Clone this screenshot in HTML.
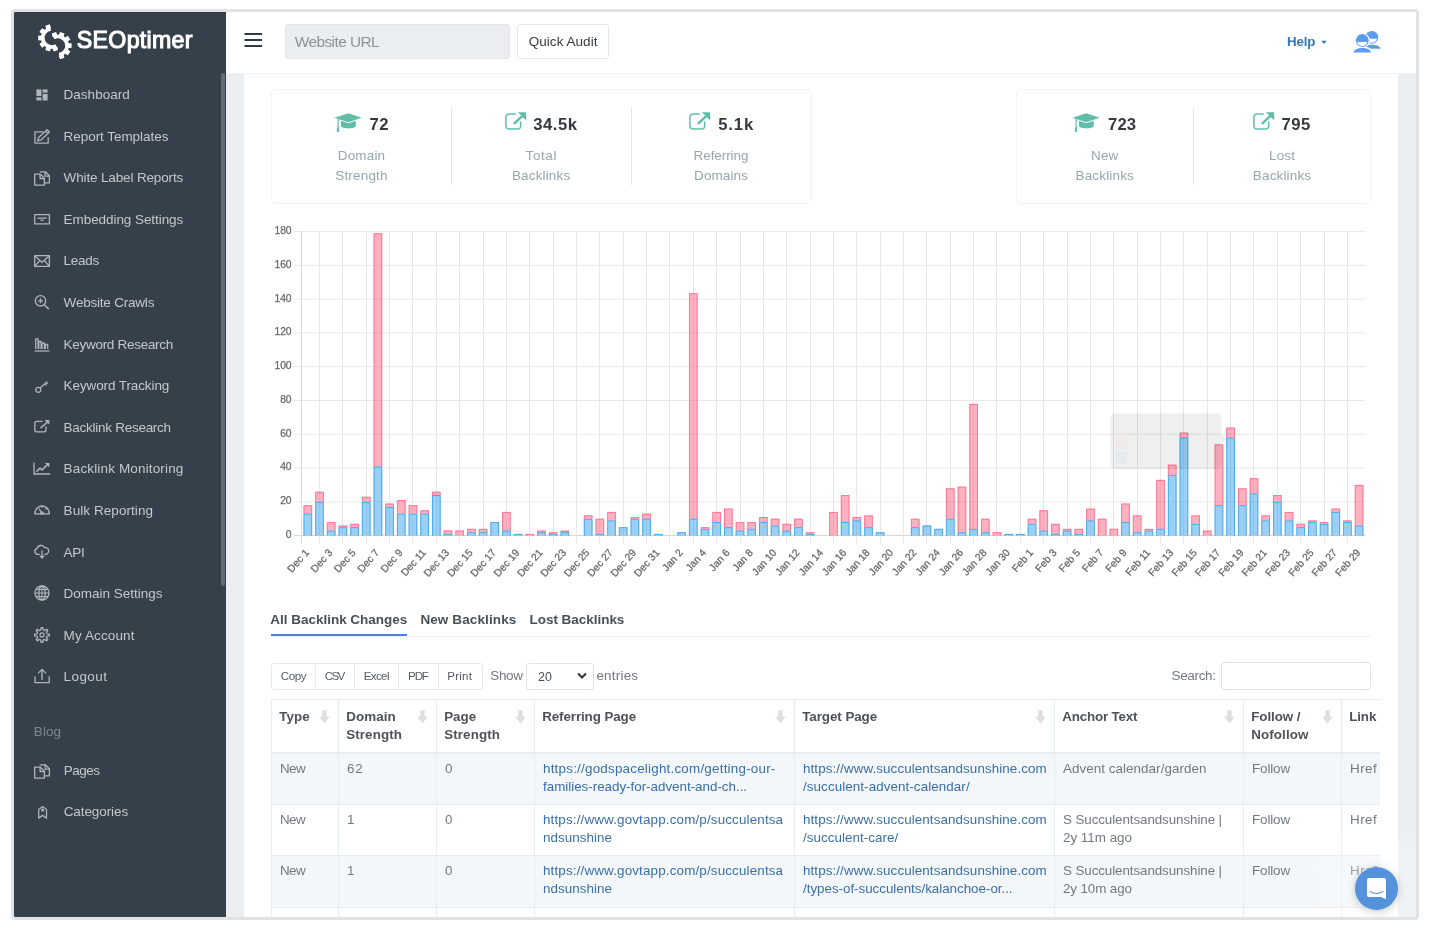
<!DOCTYPE html>
<html lang="en">
<head>
<meta charset="utf-8">
<title>SEOptimer - Backlink Monitoring</title>
<style>
*{box-sizing:border-box}
html,body{margin:0;padding:0;background:#fff;width:1430px;height:930px;overflow:hidden}
body{font-family:"Liberation Sans",sans-serif;font-size:13.4px;color:#727981;position:relative}
#frame{position:absolute;left:14px;top:12px;width:1402px;height:905px;overflow:hidden;background:#ebeff2;border-radius:1.5px;box-shadow:0 0 0 3px #e2e2e2}
#pg{position:absolute;left:-14px;top:-12px;width:1430px;height:930px}
.abs{position:absolute}
.t{position:absolute;white-space:nowrap}
#sidebar{position:absolute;left:14px;top:12px;width:212px;height:905px;background:#36404a;border-top:1px solid #2e3741}
#sbthumb{position:absolute;left:221px;top:73px;width:4px;height:513px;border-radius:2px;background:#626c76}
.mic{position:absolute;overflow:visible}
#topbar{position:absolute;left:226px;top:12px;width:1190px;height:61px;background:#fff;box-shadow:0 1px 0 #f0f2f4}
#card{position:absolute;left:244px;top:74px;width:1154px;height:860px;background:#fff}
.sbox{position:absolute;top:89px;height:114.5px;border:1px solid #f1f3f6;border-radius:5px;background:#fff}
.sdiv{position:absolute;top:108px;width:1px;height:77px;background:#dfe4ef}
.btn{position:absolute;top:663.5px;height:26px;border:1px solid #e6e9ec;background:#fff}
table{position:absolute;border-collapse:collapse;table-layout:fixed;width:1240px;font-size:13.4px;white-space:nowrap}
th,td{border:1px solid #e7ecf0;vertical-align:top;text-align:left;padding:6.2px 8px 0 8px;line-height:18px;overflow:hidden}
th{font-weight:bold;color:#4d5359;height:53px;border-bottom:2px solid #e7ecf0;position:relative;padding-top:7.6px;padding-left:7.2px}
td{height:51.6px;color:#727981}
tr.odd td{background:#f3f7fa}
td a{color:#3a6fa7;text-decoration:none}
th svg{position:absolute;right:8px;top:9.6px}
</style>
</head>
<body>
<div id="frame"><div id="pg">
<div id="card"></div>
<div class="sbox" style="left:271px;width:540.5px"></div><div class="sdiv" style="left:451px"></div><div class="sdiv" style="left:631px"></div>
<div class="sbox" style="left:1016px;width:355px"></div><div class="sdiv" style="left:1193px"></div>
<svg class="abs" style="left:334px;top:113px" width="28" height="20" viewBox="-1 0 28 20"><path d="M-0.6 4.8 L13.4 0.3 L26.7 4.8 L13.4 9.2 Z" fill="#5fbeaa"/><path d="M6 7.8 L13.4 10.3 L20.8 7.8 V12.6 C20.8 16.4 6 16.4 6 12.6 Z" fill="#5fbeaa"/><path d="M2.6 5.6 L3.9 6 L3.6 12.4 L4.4 18.8 H1.5 L2.5 12.4 Z" fill="#5fbeaa"/></svg>
<div class="t" style="left:369.5px;top:115.11px;line-height:20px;font-size:16.7px;font-weight:bold;color:#343a40;letter-spacing:0.438px;">72</div>
<svg class="abs" style="left:504.6px;top:111px" width="23" height="20" viewBox="0 0 23 20"><path d="M10.8 3 H3.9 a3 3 0 0 0 -3 3 V15.1 a3 3 0 0 0 3 3 H12.7 a3 3 0 0 0 3 -3 V10.6" fill="none" stroke="#5fbeaa" stroke-width="1.5"/><path d="M8.9 12.9 L18 4.4" stroke="#5fbeaa" stroke-width="2.5"/><path d="M12.9 1.2 H21.2 V9.4 Z" fill="#5fbeaa"/></svg>
<div class="t" style="left:533.2px;top:115.11px;line-height:20px;font-size:16.7px;font-weight:bold;color:#343a40;letter-spacing:0.534px;">34.5k</div>
<svg class="abs" style="left:689px;top:111px" width="23" height="20" viewBox="0 0 23 20"><path d="M10.8 3 H3.9 a3 3 0 0 0 -3 3 V15.1 a3 3 0 0 0 3 3 H12.7 a3 3 0 0 0 3 -3 V10.6" fill="none" stroke="#5fbeaa" stroke-width="1.5"/><path d="M8.9 12.9 L18 4.4" stroke="#5fbeaa" stroke-width="2.5"/><path d="M12.9 1.2 H21.2 V9.4 Z" fill="#5fbeaa"/></svg>
<div class="t" style="left:718.2px;top:115.11px;line-height:20px;font-size:16.7px;font-weight:bold;color:#343a40;letter-spacing:0.872px;">5.1k</div>
<svg class="abs" style="left:1072.3px;top:113px" width="28" height="20" viewBox="-1 0 28 20"><path d="M-0.6 4.8 L13.4 0.3 L26.7 4.8 L13.4 9.2 Z" fill="#5fbeaa"/><path d="M6 7.8 L13.4 10.3 L20.8 7.8 V12.6 C20.8 16.4 6 16.4 6 12.6 Z" fill="#5fbeaa"/><path d="M2.6 5.6 L3.9 6 L3.6 12.4 L4.4 18.8 H1.5 L2.5 12.4 Z" fill="#5fbeaa"/></svg>
<div class="t" style="left:1108.0px;top:115.11px;line-height:20px;font-size:16.7px;font-weight:bold;color:#343a40;letter-spacing:0.128px;">723</div>
<svg class="abs" style="left:1253px;top:111px" width="23" height="20" viewBox="0 0 23 20"><path d="M10.8 3 H3.9 a3 3 0 0 0 -3 3 V15.1 a3 3 0 0 0 3 3 H12.7 a3 3 0 0 0 3 -3 V10.6" fill="none" stroke="#5fbeaa" stroke-width="1.5"/><path d="M8.9 12.9 L18 4.4" stroke="#5fbeaa" stroke-width="2.5"/><path d="M12.9 1.2 H21.2 V9.4 Z" fill="#5fbeaa"/></svg>
<div class="t" style="left:1281.5px;top:115.11px;line-height:20px;font-size:16.7px;font-weight:bold;color:#343a40;letter-spacing:0.528px;">795</div>
<div class="t" style="left:337.8px;top:145.92px;line-height:20px;font-size:13.5px;color:#98a6ad;letter-spacing:0.154px;">Domain</div>
<div class="t" style="left:335.2px;top:165.92px;line-height:20px;font-size:13.5px;color:#98a6ad;letter-spacing:0.193px;">Strength</div>
<div class="t" style="left:525.6px;top:145.92px;line-height:20px;font-size:13.5px;color:#98a6ad;letter-spacing:0.567px;">Total</div>
<div class="t" style="left:511.9px;top:165.92px;line-height:20px;font-size:13.5px;color:#98a6ad;letter-spacing:0.159px;">Backlinks</div>
<div class="t" style="left:693.6px;top:145.92px;line-height:20px;font-size:13.5px;color:#98a6ad;letter-spacing:-0.091px;">Referring</div>
<div class="t" style="left:694.1px;top:165.92px;line-height:20px;font-size:13.5px;color:#98a6ad;letter-spacing:0.086px;">Domains</div>
<div class="t" style="left:1091.0px;top:145.92px;line-height:20px;font-size:13.5px;color:#98a6ad;letter-spacing:0.142px;">New</div>
<div class="t" style="left:1075.5px;top:165.92px;line-height:20px;font-size:13.5px;color:#98a6ad;letter-spacing:0.159px;">Backlinks</div>
<div class="t" style="left:1269.1px;top:145.92px;line-height:20px;font-size:13.5px;color:#98a6ad;letter-spacing:0.09px;">Lost</div>
<div class="t" style="left:1252.8px;top:165.92px;line-height:20px;font-size:13.5px;color:#98a6ad;letter-spacing:0.159px;">Backlinks</div>
<svg id="chart" width="1430" height="930" viewBox="0 0 1430 930" style="position:absolute;left:0;top:0;overflow:visible">
<g stroke="#e9e9e9" stroke-width="1" shape-rendering="auto">
<line x1="294.1" y1="535.60" x2="1365.7" y2="535.60" stroke="#d4d4d4"/>
<line x1="294.1" y1="501.82" x2="1365.7" y2="501.82" stroke="#e9e9e9"/>
<line x1="294.1" y1="468.04" x2="1365.7" y2="468.04" stroke="#e9e9e9"/>
<line x1="294.1" y1="434.26" x2="1365.7" y2="434.26" stroke="#e9e9e9"/>
<line x1="294.1" y1="400.48" x2="1365.7" y2="400.48" stroke="#e9e9e9"/>
<line x1="294.1" y1="366.70" x2="1365.7" y2="366.70" stroke="#e9e9e9"/>
<line x1="294.1" y1="332.92" x2="1365.7" y2="332.92" stroke="#e9e9e9"/>
<line x1="294.1" y1="299.14" x2="1365.7" y2="299.14" stroke="#e9e9e9"/>
<line x1="294.1" y1="265.36" x2="1365.7" y2="265.36" stroke="#e9e9e9"/>
<line x1="294.1" y1="231.58" x2="1365.7" y2="231.58" stroke="#e9e9e9"/>
<line x1="301.5" y1="231.58" x2="301.5" y2="543.10" stroke="#dcdcdc"/>
<line x1="319.50" y1="231.58" x2="319.50" y2="543.10" stroke="#e7e7e7"/>
<line x1="342.50" y1="231.58" x2="342.50" y2="543.10" stroke="#e7e7e7"/>
<line x1="366.50" y1="231.58" x2="366.50" y2="543.10" stroke="#e7e7e7"/>
<line x1="389.50" y1="231.58" x2="389.50" y2="543.10" stroke="#e7e7e7"/>
<line x1="412.50" y1="231.58" x2="412.50" y2="543.10" stroke="#e7e7e7"/>
<line x1="436.50" y1="231.58" x2="436.50" y2="543.10" stroke="#e7e7e7"/>
<line x1="459.50" y1="231.58" x2="459.50" y2="543.10" stroke="#e7e7e7"/>
<line x1="483.50" y1="231.58" x2="483.50" y2="543.10" stroke="#e7e7e7"/>
<line x1="506.50" y1="231.58" x2="506.50" y2="543.10" stroke="#e7e7e7"/>
<line x1="529.50" y1="231.58" x2="529.50" y2="543.10" stroke="#e7e7e7"/>
<line x1="553.50" y1="231.58" x2="553.50" y2="543.10" stroke="#e7e7e7"/>
<line x1="576.50" y1="231.58" x2="576.50" y2="543.10" stroke="#e7e7e7"/>
<line x1="599.50" y1="231.58" x2="599.50" y2="543.10" stroke="#e7e7e7"/>
<line x1="623.50" y1="231.58" x2="623.50" y2="543.10" stroke="#e7e7e7"/>
<line x1="646.50" y1="231.58" x2="646.50" y2="543.10" stroke="#e7e7e7"/>
<line x1="669.50" y1="231.58" x2="669.50" y2="543.10" stroke="#e7e7e7"/>
<line x1="693.50" y1="231.58" x2="693.50" y2="543.10" stroke="#e7e7e7"/>
<line x1="716.50" y1="231.58" x2="716.50" y2="543.10" stroke="#e7e7e7"/>
<line x1="740.50" y1="231.58" x2="740.50" y2="543.10" stroke="#e7e7e7"/>
<line x1="763.50" y1="231.58" x2="763.50" y2="543.10" stroke="#e7e7e7"/>
<line x1="786.50" y1="231.58" x2="786.50" y2="543.10" stroke="#e7e7e7"/>
<line x1="810.50" y1="231.58" x2="810.50" y2="543.10" stroke="#e7e7e7"/>
<line x1="833.50" y1="231.58" x2="833.50" y2="543.10" stroke="#e7e7e7"/>
<line x1="856.50" y1="231.58" x2="856.50" y2="543.10" stroke="#e7e7e7"/>
<line x1="880.50" y1="231.58" x2="880.50" y2="543.10" stroke="#e7e7e7"/>
<line x1="903.50" y1="231.58" x2="903.50" y2="543.10" stroke="#e7e7e7"/>
<line x1="926.50" y1="231.58" x2="926.50" y2="543.10" stroke="#e7e7e7"/>
<line x1="950.50" y1="231.58" x2="950.50" y2="543.10" stroke="#e7e7e7"/>
<line x1="973.50" y1="231.58" x2="973.50" y2="543.10" stroke="#e7e7e7"/>
<line x1="996.50" y1="231.58" x2="996.50" y2="543.10" stroke="#e7e7e7"/>
<line x1="1020.50" y1="231.58" x2="1020.50" y2="543.10" stroke="#e7e7e7"/>
<line x1="1043.50" y1="231.58" x2="1043.50" y2="543.10" stroke="#e7e7e7"/>
<line x1="1067.50" y1="231.58" x2="1067.50" y2="543.10" stroke="#e7e7e7"/>
<line x1="1090.50" y1="231.58" x2="1090.50" y2="543.10" stroke="#e7e7e7"/>
<line x1="1113.50" y1="231.58" x2="1113.50" y2="543.10" stroke="#e7e7e7"/>
<line x1="1137.50" y1="231.58" x2="1137.50" y2="543.10" stroke="#e7e7e7"/>
<line x1="1160.50" y1="231.58" x2="1160.50" y2="543.10" stroke="#e7e7e7"/>
<line x1="1183.50" y1="231.58" x2="1183.50" y2="543.10" stroke="#e7e7e7"/>
<line x1="1207.50" y1="231.58" x2="1207.50" y2="543.10" stroke="#e7e7e7"/>
<line x1="1230.50" y1="231.58" x2="1230.50" y2="543.10" stroke="#e7e7e7"/>
<line x1="1253.50" y1="231.58" x2="1253.50" y2="543.10" stroke="#e7e7e7"/>
<line x1="1277.50" y1="231.58" x2="1277.50" y2="543.10" stroke="#e7e7e7"/>
<line x1="1300.50" y1="231.58" x2="1300.50" y2="543.10" stroke="#e7e7e7"/>
<line x1="1324.50" y1="231.58" x2="1324.50" y2="543.10" stroke="#e7e7e7"/>
<line x1="1347.50" y1="231.58" x2="1347.50" y2="543.10" stroke="#e7e7e7"/>
</g>
<g stroke-width="1" fill="none">
<rect x="303.47" y="513.64" width="8.7" height="21.96" fill="rgba(54,162,235,0.5)"/>
<path d="M303.97 535.60 V514.14 H311.67 V535.60" stroke="rgba(54,162,235,0.8)"/>
<rect x="303.47" y="505.20" width="8.7" height="8.44" fill="rgba(255,99,132,0.5)"/>
<path d="M303.97 513.64 V505.70 H311.67 V513.64" stroke="rgba(255,99,132,0.75)"/>
<rect x="315.15" y="501.82" width="8.7" height="33.78" fill="rgba(54,162,235,0.5)"/>
<path d="M315.65 535.60 V502.32 H323.35 V535.60" stroke="rgba(54,162,235,0.8)"/>
<rect x="315.15" y="491.69" width="8.7" height="10.13" fill="rgba(255,99,132,0.5)"/>
<path d="M315.65 501.82 V492.19 H323.35 V501.82" stroke="rgba(255,99,132,0.75)"/>
<rect x="326.83" y="530.53" width="8.7" height="5.07" fill="rgba(54,162,235,0.5)"/>
<path d="M327.33 535.60 V531.03 H335.03 V535.60" stroke="rgba(54,162,235,0.8)"/>
<rect x="326.83" y="522.09" width="8.7" height="8.45" fill="rgba(255,99,132,0.5)"/>
<path d="M327.33 530.53 V522.59 H335.03 V530.53" stroke="rgba(255,99,132,0.75)"/>
<rect x="338.51" y="527.15" width="8.7" height="8.45" fill="rgba(54,162,235,0.5)"/>
<path d="M339.01 535.60 V527.65 H346.71 V535.60" stroke="rgba(54,162,235,0.8)"/>
<rect x="338.51" y="525.47" width="8.7" height="1.69" fill="rgba(255,99,132,0.5)"/>
<path d="M339.01 527.15 V525.97 H346.71 V527.15" stroke="rgba(255,99,132,0.75)"/>
<rect x="350.19" y="527.15" width="8.7" height="8.45" fill="rgba(54,162,235,0.5)"/>
<path d="M350.69 535.60 V527.65 H358.39 V535.60" stroke="rgba(54,162,235,0.8)"/>
<rect x="350.19" y="523.78" width="8.7" height="3.38" fill="rgba(255,99,132,0.5)"/>
<path d="M350.69 527.15 V524.28 H358.39 V527.15" stroke="rgba(255,99,132,0.75)"/>
<rect x="361.88" y="501.82" width="8.7" height="33.78" fill="rgba(54,162,235,0.5)"/>
<path d="M362.38 535.60 V502.32 H370.08 V535.60" stroke="rgba(54,162,235,0.8)"/>
<rect x="361.88" y="496.75" width="8.7" height="5.07" fill="rgba(255,99,132,0.5)"/>
<path d="M362.38 501.82 V497.25 H370.08 V501.82" stroke="rgba(255,99,132,0.75)"/>
<rect x="373.56" y="466.35" width="8.7" height="69.25" fill="rgba(54,162,235,0.5)"/>
<path d="M374.06 535.60 V466.85 H381.76 V535.60" stroke="rgba(54,162,235,0.8)"/>
<rect x="373.56" y="233.27" width="8.7" height="233.08" fill="rgba(255,99,132,0.5)"/>
<path d="M374.06 466.35 V233.77 H381.76 V466.35" stroke="rgba(255,99,132,0.75)"/>
<rect x="385.24" y="506.89" width="8.7" height="28.71" fill="rgba(54,162,235,0.5)"/>
<path d="M385.74 535.60 V507.39 H393.44 V535.60" stroke="rgba(54,162,235,0.8)"/>
<rect x="385.24" y="503.51" width="8.7" height="3.38" fill="rgba(255,99,132,0.5)"/>
<path d="M385.74 506.89 V504.01 H393.44 V506.89" stroke="rgba(255,99,132,0.75)"/>
<rect x="396.92" y="513.64" width="8.7" height="21.96" fill="rgba(54,162,235,0.5)"/>
<path d="M397.42 535.60 V514.14 H405.12 V535.60" stroke="rgba(54,162,235,0.8)"/>
<rect x="396.92" y="500.13" width="8.7" height="13.51" fill="rgba(255,99,132,0.5)"/>
<path d="M397.42 513.64 V500.63 H405.12 V513.64" stroke="rgba(255,99,132,0.75)"/>
<rect x="408.60" y="513.64" width="8.7" height="21.96" fill="rgba(54,162,235,0.5)"/>
<path d="M409.10 535.60 V514.14 H416.80 V535.60" stroke="rgba(54,162,235,0.8)"/>
<rect x="408.60" y="505.20" width="8.7" height="8.44" fill="rgba(255,99,132,0.5)"/>
<path d="M409.10 513.64 V505.70 H416.80 V513.64" stroke="rgba(255,99,132,0.75)"/>
<rect x="420.28" y="513.64" width="8.7" height="21.96" fill="rgba(54,162,235,0.5)"/>
<path d="M420.78 535.60 V514.14 H428.48 V535.60" stroke="rgba(54,162,235,0.8)"/>
<rect x="420.28" y="510.27" width="8.7" height="3.38" fill="rgba(255,99,132,0.5)"/>
<path d="M420.78 513.64 V510.77 H428.48 V513.64" stroke="rgba(255,99,132,0.75)"/>
<rect x="431.96" y="495.06" width="8.7" height="40.54" fill="rgba(54,162,235,0.5)"/>
<path d="M432.46 535.60 V495.56 H440.16 V535.60" stroke="rgba(54,162,235,0.8)"/>
<rect x="431.96" y="491.69" width="8.7" height="3.38" fill="rgba(255,99,132,0.5)"/>
<path d="M432.46 495.06 V492.19 H440.16 V495.06" stroke="rgba(255,99,132,0.75)"/>
<rect x="443.64" y="533.91" width="8.7" height="1.69" fill="rgba(54,162,235,0.5)"/>
<path d="M444.14 535.60 V534.41 H451.84 V535.60" stroke="rgba(54,162,235,0.8)"/>
<rect x="443.64" y="530.53" width="8.7" height="3.38" fill="rgba(255,99,132,0.5)"/>
<path d="M444.14 533.91 V531.03 H451.84 V533.91" stroke="rgba(255,99,132,0.75)"/>
<rect x="455.32" y="530.53" width="8.7" height="5.07" fill="rgba(255,99,132,0.5)"/>
<path d="M455.82 535.60 V531.03 H463.52 V535.60" stroke="rgba(255,99,132,0.75)"/>
<rect x="467.00" y="532.22" width="8.7" height="3.38" fill="rgba(54,162,235,0.5)"/>
<path d="M467.50 535.60 V532.72 H475.20 V535.60" stroke="rgba(54,162,235,0.8)"/>
<rect x="467.00" y="528.84" width="8.7" height="3.38" fill="rgba(255,99,132,0.5)"/>
<path d="M467.50 532.22 V529.34 H475.20 V532.22" stroke="rgba(255,99,132,0.75)"/>
<rect x="478.69" y="532.22" width="8.7" height="3.38" fill="rgba(54,162,235,0.5)"/>
<path d="M479.19 535.60 V532.72 H486.89 V535.60" stroke="rgba(54,162,235,0.8)"/>
<rect x="478.69" y="528.84" width="8.7" height="3.38" fill="rgba(255,99,132,0.5)"/>
<path d="M479.19 532.22 V529.34 H486.89 V532.22" stroke="rgba(255,99,132,0.75)"/>
<rect x="490.37" y="522.09" width="8.7" height="13.51" fill="rgba(54,162,235,0.5)"/>
<path d="M490.87 535.60 V522.59 H498.57 V535.60" stroke="rgba(54,162,235,0.8)"/>
<rect x="502.05" y="530.53" width="8.7" height="5.07" fill="rgba(54,162,235,0.5)"/>
<path d="M502.55 535.60 V531.03 H510.25 V535.60" stroke="rgba(54,162,235,0.8)"/>
<rect x="502.05" y="511.95" width="8.7" height="18.58" fill="rgba(255,99,132,0.5)"/>
<path d="M502.55 530.53 V512.45 H510.25 V530.53" stroke="rgba(255,99,132,0.75)"/>
<rect x="513.73" y="533.91" width="8.7" height="1.69" fill="rgba(54,162,235,0.5)"/>
<path d="M514.23 535.60 V534.41 H521.93 V535.60" stroke="rgba(54,162,235,0.8)"/>
<rect x="525.41" y="533.91" width="8.7" height="1.69" fill="rgba(255,99,132,0.5)"/>
<path d="M525.91 535.60 V534.41 H533.61 V535.60" stroke="rgba(255,99,132,0.75)"/>
<rect x="537.09" y="532.22" width="8.7" height="3.38" fill="rgba(54,162,235,0.5)"/>
<path d="M537.59 535.60 V532.72 H545.29 V535.60" stroke="rgba(54,162,235,0.8)"/>
<rect x="537.09" y="530.53" width="8.7" height="1.69" fill="rgba(255,99,132,0.5)"/>
<path d="M537.59 532.22 V531.03 H545.29 V532.22" stroke="rgba(255,99,132,0.75)"/>
<rect x="548.77" y="533.91" width="8.7" height="1.69" fill="rgba(54,162,235,0.5)"/>
<path d="M549.27 535.60 V534.41 H556.97 V535.60" stroke="rgba(54,162,235,0.8)"/>
<rect x="548.77" y="532.22" width="8.7" height="1.69" fill="rgba(255,99,132,0.5)"/>
<path d="M549.27 533.91 V532.72 H556.97 V533.91" stroke="rgba(255,99,132,0.75)"/>
<rect x="560.45" y="532.22" width="8.7" height="3.38" fill="rgba(54,162,235,0.5)"/>
<path d="M560.95 535.60 V532.72 H568.65 V535.60" stroke="rgba(54,162,235,0.8)"/>
<rect x="560.45" y="530.53" width="8.7" height="1.69" fill="rgba(255,99,132,0.5)"/>
<path d="M560.95 532.22 V531.03 H568.65 V532.22" stroke="rgba(255,99,132,0.75)"/>
<rect x="583.81" y="518.71" width="8.7" height="16.89" fill="rgba(54,162,235,0.5)"/>
<path d="M584.31 535.60 V519.21 H592.01 V535.60" stroke="rgba(54,162,235,0.8)"/>
<rect x="583.81" y="515.33" width="8.7" height="3.38" fill="rgba(255,99,132,0.5)"/>
<path d="M584.31 518.71 V515.83 H592.01 V518.71" stroke="rgba(255,99,132,0.75)"/>
<rect x="595.50" y="533.91" width="8.7" height="1.69" fill="rgba(54,162,235,0.5)"/>
<path d="M596.00 535.60 V534.41 H603.70 V535.60" stroke="rgba(54,162,235,0.8)"/>
<rect x="595.50" y="518.71" width="8.7" height="15.20" fill="rgba(255,99,132,0.5)"/>
<path d="M596.00 533.91 V519.21 H603.70 V533.91" stroke="rgba(255,99,132,0.75)"/>
<rect x="607.18" y="520.40" width="8.7" height="15.20" fill="rgba(54,162,235,0.5)"/>
<path d="M607.68 535.60 V520.90 H615.38 V535.60" stroke="rgba(54,162,235,0.8)"/>
<rect x="607.18" y="511.95" width="8.7" height="8.44" fill="rgba(255,99,132,0.5)"/>
<path d="M607.68 520.40 V512.45 H615.38 V520.40" stroke="rgba(255,99,132,0.75)"/>
<rect x="618.86" y="527.15" width="8.7" height="8.45" fill="rgba(54,162,235,0.5)"/>
<path d="M619.36 535.60 V527.65 H627.06 V535.60" stroke="rgba(54,162,235,0.8)"/>
<rect x="630.54" y="518.71" width="8.7" height="16.89" fill="rgba(54,162,235,0.5)"/>
<path d="M631.04 535.60 V519.21 H638.74 V535.60" stroke="rgba(54,162,235,0.8)"/>
<rect x="630.54" y="517.02" width="8.7" height="1.69" fill="rgba(255,99,132,0.5)"/>
<path d="M631.04 518.71 V517.52 H638.74 V518.71" stroke="rgba(255,99,132,0.75)"/>
<rect x="642.22" y="518.71" width="8.7" height="16.89" fill="rgba(54,162,235,0.5)"/>
<path d="M642.72 535.60 V519.21 H650.42 V535.60" stroke="rgba(54,162,235,0.8)"/>
<rect x="642.22" y="513.64" width="8.7" height="5.07" fill="rgba(255,99,132,0.5)"/>
<path d="M642.72 518.71 V514.14 H650.42 V518.71" stroke="rgba(255,99,132,0.75)"/>
<rect x="653.90" y="533.91" width="8.7" height="1.69" fill="rgba(54,162,235,0.5)"/>
<path d="M654.40 535.60 V534.41 H662.10 V535.60" stroke="rgba(54,162,235,0.8)"/>
<rect x="677.26" y="532.22" width="8.7" height="3.38" fill="rgba(54,162,235,0.5)"/>
<path d="M677.76 535.60 V532.72 H685.46 V535.60" stroke="rgba(54,162,235,0.8)"/>
<rect x="688.94" y="518.71" width="8.7" height="16.89" fill="rgba(54,162,235,0.5)"/>
<path d="M689.44 535.60 V519.21 H697.14 V535.60" stroke="rgba(54,162,235,0.8)"/>
<rect x="688.94" y="293.23" width="8.7" height="225.48" fill="rgba(255,99,132,0.5)"/>
<path d="M689.44 518.71 V293.73 H697.14 V518.71" stroke="rgba(255,99,132,0.75)"/>
<rect x="700.62" y="528.84" width="8.7" height="6.76" fill="rgba(54,162,235,0.5)"/>
<path d="M701.12 535.60 V529.34 H708.82 V535.60" stroke="rgba(54,162,235,0.8)"/>
<rect x="700.62" y="527.15" width="8.7" height="1.69" fill="rgba(255,99,132,0.5)"/>
<path d="M701.12 528.84 V527.65 H708.82 V528.84" stroke="rgba(255,99,132,0.75)"/>
<rect x="712.31" y="522.09" width="8.7" height="13.51" fill="rgba(54,162,235,0.5)"/>
<path d="M712.81 535.60 V522.59 H720.51 V535.60" stroke="rgba(54,162,235,0.8)"/>
<rect x="712.31" y="511.95" width="8.7" height="10.13" fill="rgba(255,99,132,0.5)"/>
<path d="M712.81 522.09 V512.45 H720.51 V522.09" stroke="rgba(255,99,132,0.75)"/>
<rect x="723.99" y="527.15" width="8.7" height="8.45" fill="rgba(54,162,235,0.5)"/>
<path d="M724.49 535.60 V527.65 H732.19 V535.60" stroke="rgba(54,162,235,0.8)"/>
<rect x="723.99" y="508.58" width="8.7" height="18.58" fill="rgba(255,99,132,0.5)"/>
<path d="M724.49 527.15 V509.08 H732.19 V527.15" stroke="rgba(255,99,132,0.75)"/>
<rect x="735.67" y="530.53" width="8.7" height="5.07" fill="rgba(54,162,235,0.5)"/>
<path d="M736.17 535.60 V531.03 H743.87 V535.60" stroke="rgba(54,162,235,0.8)"/>
<rect x="735.67" y="522.09" width="8.7" height="8.45" fill="rgba(255,99,132,0.5)"/>
<path d="M736.17 530.53 V522.59 H743.87 V530.53" stroke="rgba(255,99,132,0.75)"/>
<rect x="747.35" y="528.84" width="8.7" height="6.76" fill="rgba(54,162,235,0.5)"/>
<path d="M747.85 535.60 V529.34 H755.55 V535.60" stroke="rgba(54,162,235,0.8)"/>
<rect x="747.35" y="522.09" width="8.7" height="6.76" fill="rgba(255,99,132,0.5)"/>
<path d="M747.85 528.84 V522.59 H755.55 V528.84" stroke="rgba(255,99,132,0.75)"/>
<rect x="759.03" y="522.09" width="8.7" height="13.51" fill="rgba(54,162,235,0.5)"/>
<path d="M759.53 535.60 V522.59 H767.23 V535.60" stroke="rgba(54,162,235,0.8)"/>
<rect x="759.03" y="517.02" width="8.7" height="5.07" fill="rgba(255,99,132,0.5)"/>
<path d="M759.53 522.09 V517.52 H767.23 V522.09" stroke="rgba(255,99,132,0.75)"/>
<rect x="770.71" y="525.47" width="8.7" height="10.13" fill="rgba(54,162,235,0.5)"/>
<path d="M771.21 535.60 V525.97 H778.91 V535.60" stroke="rgba(54,162,235,0.8)"/>
<rect x="770.71" y="518.71" width="8.7" height="6.76" fill="rgba(255,99,132,0.5)"/>
<path d="M771.21 525.47 V519.21 H778.91 V525.47" stroke="rgba(255,99,132,0.75)"/>
<rect x="782.39" y="530.53" width="8.7" height="5.07" fill="rgba(54,162,235,0.5)"/>
<path d="M782.89 535.60 V531.03 H790.59 V535.60" stroke="rgba(54,162,235,0.8)"/>
<rect x="782.39" y="523.78" width="8.7" height="6.76" fill="rgba(255,99,132,0.5)"/>
<path d="M782.89 530.53 V524.28 H790.59 V530.53" stroke="rgba(255,99,132,0.75)"/>
<rect x="794.07" y="527.15" width="8.7" height="8.45" fill="rgba(54,162,235,0.5)"/>
<path d="M794.57 535.60 V527.65 H802.27 V535.60" stroke="rgba(54,162,235,0.8)"/>
<rect x="794.07" y="518.71" width="8.7" height="8.44" fill="rgba(255,99,132,0.5)"/>
<path d="M794.57 527.15 V519.21 H802.27 V527.15" stroke="rgba(255,99,132,0.75)"/>
<rect x="805.75" y="533.91" width="8.7" height="1.69" fill="rgba(54,162,235,0.5)"/>
<path d="M806.25 535.60 V534.41 H813.95 V535.60" stroke="rgba(54,162,235,0.8)"/>
<rect x="805.75" y="532.22" width="8.7" height="1.69" fill="rgba(255,99,132,0.5)"/>
<path d="M806.25 533.91 V532.72 H813.95 V533.91" stroke="rgba(255,99,132,0.75)"/>
<rect x="829.12" y="511.95" width="8.7" height="23.65" fill="rgba(255,99,132,0.5)"/>
<path d="M829.62 535.60 V512.45 H837.32 V535.60" stroke="rgba(255,99,132,0.75)"/>
<rect x="840.80" y="522.09" width="8.7" height="13.51" fill="rgba(54,162,235,0.5)"/>
<path d="M841.30 535.60 V522.59 H849.00 V535.60" stroke="rgba(54,162,235,0.8)"/>
<rect x="840.80" y="495.06" width="8.7" height="27.02" fill="rgba(255,99,132,0.5)"/>
<path d="M841.30 522.09 V495.56 H849.00 V522.09" stroke="rgba(255,99,132,0.75)"/>
<rect x="852.48" y="520.40" width="8.7" height="15.20" fill="rgba(54,162,235,0.5)"/>
<path d="M852.98 535.60 V520.90 H860.68 V535.60" stroke="rgba(54,162,235,0.8)"/>
<rect x="852.48" y="517.02" width="8.7" height="3.38" fill="rgba(255,99,132,0.5)"/>
<path d="M852.98 520.40 V517.52 H860.68 V520.40" stroke="rgba(255,99,132,0.75)"/>
<rect x="864.16" y="527.15" width="8.7" height="8.45" fill="rgba(54,162,235,0.5)"/>
<path d="M864.66 535.60 V527.65 H872.36 V535.60" stroke="rgba(54,162,235,0.8)"/>
<rect x="864.16" y="515.33" width="8.7" height="11.82" fill="rgba(255,99,132,0.5)"/>
<path d="M864.66 527.15 V515.83 H872.36 V527.15" stroke="rgba(255,99,132,0.75)"/>
<rect x="875.84" y="532.22" width="8.7" height="3.38" fill="rgba(54,162,235,0.5)"/>
<path d="M876.34 535.60 V532.72 H884.04 V535.60" stroke="rgba(54,162,235,0.8)"/>
<rect x="910.88" y="527.15" width="8.7" height="8.45" fill="rgba(54,162,235,0.5)"/>
<path d="M911.38 535.60 V527.65 H919.08 V535.60" stroke="rgba(54,162,235,0.8)"/>
<rect x="910.88" y="518.71" width="8.7" height="8.44" fill="rgba(255,99,132,0.5)"/>
<path d="M911.38 527.15 V519.21 H919.08 V527.15" stroke="rgba(255,99,132,0.75)"/>
<rect x="922.56" y="525.47" width="8.7" height="10.13" fill="rgba(54,162,235,0.5)"/>
<path d="M923.06 535.60 V525.97 H930.76 V535.60" stroke="rgba(54,162,235,0.8)"/>
<rect x="934.24" y="528.84" width="8.7" height="6.76" fill="rgba(54,162,235,0.5)"/>
<path d="M934.74 535.60 V529.34 H942.44 V535.60" stroke="rgba(54,162,235,0.8)"/>
<rect x="945.93" y="518.71" width="8.7" height="16.89" fill="rgba(54,162,235,0.5)"/>
<path d="M946.43 535.60 V519.21 H954.13 V535.60" stroke="rgba(54,162,235,0.8)"/>
<rect x="945.93" y="488.31" width="8.7" height="30.40" fill="rgba(255,99,132,0.5)"/>
<path d="M946.43 518.71 V488.81 H954.13 V518.71" stroke="rgba(255,99,132,0.75)"/>
<rect x="957.61" y="532.22" width="8.7" height="3.38" fill="rgba(54,162,235,0.5)"/>
<path d="M958.11 535.60 V532.72 H965.81 V535.60" stroke="rgba(54,162,235,0.8)"/>
<rect x="957.61" y="486.62" width="8.7" height="45.60" fill="rgba(255,99,132,0.5)"/>
<path d="M958.11 532.22 V487.12 H965.81 V532.22" stroke="rgba(255,99,132,0.75)"/>
<rect x="969.29" y="528.84" width="8.7" height="6.76" fill="rgba(54,162,235,0.5)"/>
<path d="M969.79 535.60 V529.34 H977.49 V535.60" stroke="rgba(54,162,235,0.8)"/>
<rect x="969.29" y="403.86" width="8.7" height="124.99" fill="rgba(255,99,132,0.5)"/>
<path d="M969.79 528.84 V404.36 H977.49 V528.84" stroke="rgba(255,99,132,0.75)"/>
<rect x="980.97" y="532.22" width="8.7" height="3.38" fill="rgba(54,162,235,0.5)"/>
<path d="M981.47 535.60 V532.72 H989.17 V535.60" stroke="rgba(54,162,235,0.8)"/>
<rect x="980.97" y="518.71" width="8.7" height="13.51" fill="rgba(255,99,132,0.5)"/>
<path d="M981.47 532.22 V519.21 H989.17 V532.22" stroke="rgba(255,99,132,0.75)"/>
<rect x="992.65" y="532.22" width="8.7" height="3.38" fill="rgba(255,99,132,0.5)"/>
<path d="M993.15 535.60 V532.72 H1000.85 V535.60" stroke="rgba(255,99,132,0.75)"/>
<rect x="1004.33" y="533.91" width="8.7" height="1.69" fill="rgba(54,162,235,0.5)"/>
<path d="M1004.83 535.60 V534.41 H1012.53 V535.60" stroke="rgba(54,162,235,0.8)"/>
<rect x="1016.01" y="533.91" width="8.7" height="1.69" fill="rgba(54,162,235,0.5)"/>
<path d="M1016.51 535.60 V534.41 H1024.21 V535.60" stroke="rgba(54,162,235,0.8)"/>
<rect x="1027.69" y="523.78" width="8.7" height="11.82" fill="rgba(54,162,235,0.5)"/>
<path d="M1028.19 535.60 V524.28 H1035.89 V535.60" stroke="rgba(54,162,235,0.8)"/>
<rect x="1027.69" y="518.71" width="8.7" height="5.07" fill="rgba(255,99,132,0.5)"/>
<path d="M1028.19 523.78 V519.21 H1035.89 V523.78" stroke="rgba(255,99,132,0.75)"/>
<rect x="1039.37" y="530.53" width="8.7" height="5.07" fill="rgba(54,162,235,0.5)"/>
<path d="M1039.87 535.60 V531.03 H1047.57 V535.60" stroke="rgba(54,162,235,0.8)"/>
<rect x="1039.37" y="510.27" width="8.7" height="20.27" fill="rgba(255,99,132,0.5)"/>
<path d="M1039.87 530.53 V510.77 H1047.57 V530.53" stroke="rgba(255,99,132,0.75)"/>
<rect x="1051.05" y="533.91" width="8.7" height="1.69" fill="rgba(54,162,235,0.5)"/>
<path d="M1051.55 535.60 V534.41 H1059.25 V535.60" stroke="rgba(54,162,235,0.8)"/>
<rect x="1051.05" y="523.78" width="8.7" height="10.13" fill="rgba(255,99,132,0.5)"/>
<path d="M1051.55 533.91 V524.28 H1059.25 V533.91" stroke="rgba(255,99,132,0.75)"/>
<rect x="1062.74" y="530.53" width="8.7" height="5.07" fill="rgba(54,162,235,0.5)"/>
<path d="M1063.24 535.60 V531.03 H1070.94 V535.60" stroke="rgba(54,162,235,0.8)"/>
<rect x="1062.74" y="528.84" width="8.7" height="1.69" fill="rgba(255,99,132,0.5)"/>
<path d="M1063.24 530.53 V529.34 H1070.94 V530.53" stroke="rgba(255,99,132,0.75)"/>
<rect x="1074.42" y="533.91" width="8.7" height="1.69" fill="rgba(54,162,235,0.5)"/>
<path d="M1074.92 535.60 V534.41 H1082.62 V535.60" stroke="rgba(54,162,235,0.8)"/>
<rect x="1074.42" y="528.84" width="8.7" height="5.07" fill="rgba(255,99,132,0.5)"/>
<path d="M1074.92 533.91 V529.34 H1082.62 V533.91" stroke="rgba(255,99,132,0.75)"/>
<rect x="1086.10" y="520.40" width="8.7" height="15.20" fill="rgba(54,162,235,0.5)"/>
<path d="M1086.60 535.60 V520.90 H1094.30 V535.60" stroke="rgba(54,162,235,0.8)"/>
<rect x="1086.10" y="508.58" width="8.7" height="11.82" fill="rgba(255,99,132,0.5)"/>
<path d="M1086.60 520.40 V509.08 H1094.30 V520.40" stroke="rgba(255,99,132,0.75)"/>
<rect x="1097.78" y="518.71" width="8.7" height="16.89" fill="rgba(255,99,132,0.5)"/>
<path d="M1098.28 535.60 V519.21 H1105.98 V535.60" stroke="rgba(255,99,132,0.75)"/>
<rect x="1109.46" y="528.84" width="8.7" height="6.76" fill="rgba(255,99,132,0.5)"/>
<path d="M1109.96 535.60 V529.34 H1117.66 V535.60" stroke="rgba(255,99,132,0.75)"/>
<rect x="1121.14" y="522.09" width="8.7" height="13.51" fill="rgba(54,162,235,0.5)"/>
<path d="M1121.64 535.60 V522.59 H1129.34 V535.60" stroke="rgba(54,162,235,0.8)"/>
<rect x="1121.14" y="503.51" width="8.7" height="18.58" fill="rgba(255,99,132,0.5)"/>
<path d="M1121.64 522.09 V504.01 H1129.34 V522.09" stroke="rgba(255,99,132,0.75)"/>
<rect x="1132.82" y="532.22" width="8.7" height="3.38" fill="rgba(54,162,235,0.5)"/>
<path d="M1133.32 535.60 V532.72 H1141.02 V535.60" stroke="rgba(54,162,235,0.8)"/>
<rect x="1132.82" y="515.33" width="8.7" height="16.89" fill="rgba(255,99,132,0.5)"/>
<path d="M1133.32 532.22 V515.83 H1141.02 V532.22" stroke="rgba(255,99,132,0.75)"/>
<rect x="1144.50" y="530.53" width="8.7" height="5.07" fill="rgba(54,162,235,0.5)"/>
<path d="M1145.00 535.60 V531.03 H1152.70 V535.60" stroke="rgba(54,162,235,0.8)"/>
<rect x="1144.50" y="528.84" width="8.7" height="1.69" fill="rgba(255,99,132,0.5)"/>
<path d="M1145.00 530.53 V529.34 H1152.70 V530.53" stroke="rgba(255,99,132,0.75)"/>
<rect x="1156.18" y="528.84" width="8.7" height="6.76" fill="rgba(54,162,235,0.5)"/>
<path d="M1156.68 535.60 V529.34 H1164.38 V535.60" stroke="rgba(54,162,235,0.8)"/>
<rect x="1156.18" y="479.86" width="8.7" height="48.98" fill="rgba(255,99,132,0.5)"/>
<path d="M1156.68 528.84 V480.36 H1164.38 V528.84" stroke="rgba(255,99,132,0.75)"/>
<rect x="1167.86" y="474.80" width="8.7" height="60.80" fill="rgba(54,162,235,0.5)"/>
<path d="M1168.36 535.60 V475.30 H1176.06 V535.60" stroke="rgba(54,162,235,0.8)"/>
<rect x="1167.86" y="464.66" width="8.7" height="10.13" fill="rgba(255,99,132,0.5)"/>
<path d="M1168.36 474.80 V465.16 H1176.06 V474.80" stroke="rgba(255,99,132,0.75)"/>
<rect x="1179.55" y="437.64" width="8.7" height="97.96" fill="rgba(54,162,235,0.5)"/>
<path d="M1180.05 535.60 V438.14 H1187.75 V535.60" stroke="rgba(54,162,235,0.8)"/>
<rect x="1179.55" y="432.57" width="8.7" height="5.07" fill="rgba(255,99,132,0.5)"/>
<path d="M1180.05 437.64 V433.07 H1187.75 V437.64" stroke="rgba(255,99,132,0.75)"/>
<rect x="1191.23" y="523.78" width="8.7" height="11.82" fill="rgba(54,162,235,0.5)"/>
<path d="M1191.73 535.60 V524.28 H1199.43 V535.60" stroke="rgba(54,162,235,0.8)"/>
<rect x="1191.23" y="515.33" width="8.7" height="8.45" fill="rgba(255,99,132,0.5)"/>
<path d="M1191.73 523.78 V515.83 H1199.43 V523.78" stroke="rgba(255,99,132,0.75)"/>
<rect x="1202.91" y="530.53" width="8.7" height="5.07" fill="rgba(255,99,132,0.5)"/>
<path d="M1203.41 535.60 V531.03 H1211.11 V535.60" stroke="rgba(255,99,132,0.75)"/>
<rect x="1214.59" y="505.20" width="8.7" height="30.40" fill="rgba(54,162,235,0.5)"/>
<path d="M1215.09 535.60 V505.70 H1222.79 V535.60" stroke="rgba(54,162,235,0.8)"/>
<rect x="1214.59" y="444.39" width="8.7" height="60.80" fill="rgba(255,99,132,0.5)"/>
<path d="M1215.09 505.20 V444.89 H1222.79 V505.20" stroke="rgba(255,99,132,0.75)"/>
<rect x="1226.27" y="437.64" width="8.7" height="97.96" fill="rgba(54,162,235,0.5)"/>
<path d="M1226.77 535.60 V438.14 H1234.47 V535.60" stroke="rgba(54,162,235,0.8)"/>
<rect x="1226.27" y="427.50" width="8.7" height="10.13" fill="rgba(255,99,132,0.5)"/>
<path d="M1226.77 437.64 V428.00 H1234.47 V437.64" stroke="rgba(255,99,132,0.75)"/>
<rect x="1237.95" y="505.20" width="8.7" height="30.40" fill="rgba(54,162,235,0.5)"/>
<path d="M1238.45 535.60 V505.70 H1246.15 V535.60" stroke="rgba(54,162,235,0.8)"/>
<rect x="1237.95" y="488.31" width="8.7" height="16.89" fill="rgba(255,99,132,0.5)"/>
<path d="M1238.45 505.20 V488.81 H1246.15 V505.20" stroke="rgba(255,99,132,0.75)"/>
<rect x="1249.63" y="493.38" width="8.7" height="42.23" fill="rgba(54,162,235,0.5)"/>
<path d="M1250.13 535.60 V493.88 H1257.83 V535.60" stroke="rgba(54,162,235,0.8)"/>
<rect x="1249.63" y="478.17" width="8.7" height="15.20" fill="rgba(255,99,132,0.5)"/>
<path d="M1250.13 493.38 V478.67 H1257.83 V493.38" stroke="rgba(255,99,132,0.75)"/>
<rect x="1261.31" y="520.40" width="8.7" height="15.20" fill="rgba(54,162,235,0.5)"/>
<path d="M1261.81 535.60 V520.90 H1269.51 V535.60" stroke="rgba(54,162,235,0.8)"/>
<rect x="1261.31" y="515.33" width="8.7" height="5.07" fill="rgba(255,99,132,0.5)"/>
<path d="M1261.81 520.40 V515.83 H1269.51 V520.40" stroke="rgba(255,99,132,0.75)"/>
<rect x="1272.99" y="501.82" width="8.7" height="33.78" fill="rgba(54,162,235,0.5)"/>
<path d="M1273.49 535.60 V502.32 H1281.19 V535.60" stroke="rgba(54,162,235,0.8)"/>
<rect x="1272.99" y="495.06" width="8.7" height="6.76" fill="rgba(255,99,132,0.5)"/>
<path d="M1273.49 501.82 V495.56 H1281.19 V501.82" stroke="rgba(255,99,132,0.75)"/>
<rect x="1284.67" y="520.40" width="8.7" height="15.20" fill="rgba(54,162,235,0.5)"/>
<path d="M1285.17 535.60 V520.90 H1292.87 V535.60" stroke="rgba(54,162,235,0.8)"/>
<rect x="1284.67" y="511.95" width="8.7" height="8.44" fill="rgba(255,99,132,0.5)"/>
<path d="M1285.17 520.40 V512.45 H1292.87 V520.40" stroke="rgba(255,99,132,0.75)"/>
<rect x="1296.36" y="527.15" width="8.7" height="8.45" fill="rgba(54,162,235,0.5)"/>
<path d="M1296.86 535.60 V527.65 H1304.56 V535.60" stroke="rgba(54,162,235,0.8)"/>
<rect x="1296.36" y="523.78" width="8.7" height="3.38" fill="rgba(255,99,132,0.5)"/>
<path d="M1296.86 527.15 V524.28 H1304.56 V527.15" stroke="rgba(255,99,132,0.75)"/>
<rect x="1308.04" y="522.09" width="8.7" height="13.51" fill="rgba(54,162,235,0.5)"/>
<path d="M1308.54 535.60 V522.59 H1316.24 V535.60" stroke="rgba(54,162,235,0.8)"/>
<rect x="1308.04" y="520.40" width="8.7" height="1.69" fill="rgba(255,99,132,0.5)"/>
<path d="M1308.54 522.09 V520.90 H1316.24 V522.09" stroke="rgba(255,99,132,0.75)"/>
<rect x="1319.72" y="523.78" width="8.7" height="11.82" fill="rgba(54,162,235,0.5)"/>
<path d="M1320.22 535.60 V524.28 H1327.92 V535.60" stroke="rgba(54,162,235,0.8)"/>
<rect x="1319.72" y="522.09" width="8.7" height="1.69" fill="rgba(255,99,132,0.5)"/>
<path d="M1320.22 523.78 V522.59 H1327.92 V523.78" stroke="rgba(255,99,132,0.75)"/>
<rect x="1331.40" y="511.95" width="8.7" height="23.65" fill="rgba(54,162,235,0.5)"/>
<path d="M1331.90 535.60 V512.45 H1339.60 V535.60" stroke="rgba(54,162,235,0.8)"/>
<rect x="1331.40" y="508.58" width="8.7" height="3.38" fill="rgba(255,99,132,0.5)"/>
<path d="M1331.90 511.95 V509.08 H1339.60 V511.95" stroke="rgba(255,99,132,0.75)"/>
<rect x="1343.08" y="522.09" width="8.7" height="13.51" fill="rgba(54,162,235,0.5)"/>
<path d="M1343.58 535.60 V522.59 H1351.28 V535.60" stroke="rgba(54,162,235,0.8)"/>
<rect x="1343.08" y="520.40" width="8.7" height="1.69" fill="rgba(255,99,132,0.5)"/>
<path d="M1343.58 522.09 V520.90 H1351.28 V522.09" stroke="rgba(255,99,132,0.75)"/>
<rect x="1354.76" y="525.47" width="8.7" height="10.13" fill="rgba(54,162,235,0.5)"/>
<path d="M1355.26 535.60 V525.97 H1362.96 V535.60" stroke="rgba(54,162,235,0.8)"/>
<rect x="1354.76" y="484.93" width="8.7" height="40.54" fill="rgba(255,99,132,0.5)"/>
<path d="M1355.26 525.47 V485.43 H1362.96 V525.47" stroke="rgba(255,99,132,0.75)"/>
</g>
<g font-family='"Liberation Sans", sans-serif' font-size="10.3" fill="#666" stroke="#666" stroke-width="0.25" text-anchor="end">
<text x="291.6" y="538.0">0</text>
<text x="291.6" y="504.2">20</text>
<text x="291.6" y="470.4">40</text>
<text x="291.6" y="436.7">60</text>
<text x="291.6" y="402.9">80</text>
<text x="291.6" y="369.1">100</text>
<text x="291.6" y="335.3">120</text>
<text x="291.6" y="301.5">140</text>
<text x="291.6" y="267.8">160</text>
<text x="291.6" y="234.0">180</text>
</g>
<g font-family='"Liberation Sans", sans-serif' font-size="10.3" fill="#666" stroke="#666" stroke-width="0.25" text-anchor="end">
<text transform="translate(309.7,553.0) rotate(-48.5)">Dec 1</text>
<text transform="translate(333.1,553.0) rotate(-48.5)">Dec 3</text>
<text transform="translate(356.4,553.0) rotate(-48.5)">Dec 5</text>
<text transform="translate(379.8,553.0) rotate(-48.5)">Dec 7</text>
<text transform="translate(403.2,553.0) rotate(-48.5)">Dec 9</text>
<text transform="translate(426.5,553.0) rotate(-48.5)">Dec 11</text>
<text transform="translate(449.9,553.0) rotate(-48.5)">Dec 13</text>
<text transform="translate(473.3,553.0) rotate(-48.5)">Dec 15</text>
<text transform="translate(496.6,553.0) rotate(-48.5)">Dec 17</text>
<text transform="translate(520.0,553.0) rotate(-48.5)">Dec 19</text>
<text transform="translate(543.3,553.0) rotate(-48.5)">Dec 21</text>
<text transform="translate(566.7,553.0) rotate(-48.5)">Dec 23</text>
<text transform="translate(590.1,553.0) rotate(-48.5)">Dec 25</text>
<text transform="translate(613.4,553.0) rotate(-48.5)">Dec 27</text>
<text transform="translate(636.8,553.0) rotate(-48.5)">Dec 29</text>
<text transform="translate(660.2,553.0) rotate(-48.5)">Dec 31</text>
<text transform="translate(683.5,553.0) rotate(-48.5)">Jan 2</text>
<text transform="translate(706.9,553.0) rotate(-48.5)">Jan 4</text>
<text transform="translate(730.2,553.0) rotate(-48.5)">Jan 6</text>
<text transform="translate(753.6,553.0) rotate(-48.5)">Jan 8</text>
<text transform="translate(777.0,553.0) rotate(-48.5)">Jan 10</text>
<text transform="translate(800.3,553.0) rotate(-48.5)">Jan 12</text>
<text transform="translate(823.7,553.0) rotate(-48.5)">Jan 14</text>
<text transform="translate(847.0,553.0) rotate(-48.5)">Jan 16</text>
<text transform="translate(870.4,553.0) rotate(-48.5)">Jan 18</text>
<text transform="translate(893.8,553.0) rotate(-48.5)">Jan 20</text>
<text transform="translate(917.1,553.0) rotate(-48.5)">Jan 22</text>
<text transform="translate(940.5,553.0) rotate(-48.5)">Jan 24</text>
<text transform="translate(963.9,553.0) rotate(-48.5)">Jan 26</text>
<text transform="translate(987.2,553.0) rotate(-48.5)">Jan 28</text>
<text transform="translate(1010.6,553.0) rotate(-48.5)">Jan 30</text>
<text transform="translate(1033.9,553.0) rotate(-48.5)">Feb 1</text>
<text transform="translate(1057.3,553.0) rotate(-48.5)">Feb 3</text>
<text transform="translate(1080.7,553.0) rotate(-48.5)">Feb 5</text>
<text transform="translate(1104.0,553.0) rotate(-48.5)">Feb 7</text>
<text transform="translate(1127.4,553.0) rotate(-48.5)">Feb 9</text>
<text transform="translate(1150.8,553.0) rotate(-48.5)">Feb 11</text>
<text transform="translate(1174.1,553.0) rotate(-48.5)">Feb 13</text>
<text transform="translate(1197.5,553.0) rotate(-48.5)">Feb 15</text>
<text transform="translate(1220.8,553.0) rotate(-48.5)">Feb 17</text>
<text transform="translate(1244.2,553.0) rotate(-48.5)">Feb 19</text>
<text transform="translate(1267.6,553.0) rotate(-48.5)">Feb 21</text>
<text transform="translate(1290.9,553.0) rotate(-48.5)">Feb 23</text>
<text transform="translate(1314.3,553.0) rotate(-48.5)">Feb 25</text>
<text transform="translate(1337.6,553.0) rotate(-48.5)">Feb 27</text>
<text transform="translate(1361.0,553.0) rotate(-48.5)">Feb 29</text>
</g>
<g opacity="0.06"><rect x="1110.5" y="413.5" width="111" height="55.5" rx="5" fill="#000"/><path d="M1221.5 434 L1226.5 439 L1221.5 444 Z" fill="#000"/></g>
<rect x="1115.3" y="437" width="11.7" height="11.4" fill="rgba(255,99,132,0.04)"/><rect x="1115.3" y="451.8" width="11.7" height="11.6" fill="rgba(54,162,235,0.05)"/>
</svg>
<div class="abs" style="left:271px;top:636px;width:1100px;height:1px;background:#eef0f3"></div>
<div class="abs" style="left:271px;top:634px;width:136px;height:2px;background:#4a81e0"></div>
<div class="t" style="left:270.3px;top:610.07px;line-height:20px;font-size:13.5px;font-weight:bold;color:#485057;letter-spacing:-0.016px;">All Backlink Changes</div>
<div class="t" style="left:420.4px;top:610.07px;line-height:20px;font-size:13.5px;font-weight:bold;color:#485057;letter-spacing:0.113px;">New Backlinks</div>
<div class="t" style="left:529.5px;top:610.07px;line-height:20px;font-size:13.5px;font-weight:bold;color:#485057;letter-spacing:-0.031px;">Lost Backlinks</div>
<div class="abs" style="left:271px;top:663px;width:211.5px;height:26.5px;border:1px solid #e6e9ec;border-radius:3px;background:#fff"></div>
<div class="abs" style="left:315px;top:664px;width:1px;height:24.5px;background:#e6e9ec"></div>
<div class="abs" style="left:354px;top:664px;width:1px;height:24.5px;background:#e6e9ec"></div>
<div class="abs" style="left:398px;top:664px;width:1px;height:24.5px;background:#e6e9ec"></div>
<div class="abs" style="left:437.5px;top:664px;width:1px;height:24.5px;background:#e6e9ec"></div>
<div class="t" style="left:280.8px;top:666.08px;line-height:20px;font-size:11.6px;color:#555c63;letter-spacing:-0.459px;">Copy</div>
<div class="t" style="left:324.8px;top:666.08px;line-height:20px;font-size:11.6px;color:#555c63;letter-spacing:-1.672px;">CSV</div>
<div class="t" style="left:363.7px;top:666.08px;line-height:20px;font-size:11.6px;color:#555c63;letter-spacing:-0.64px;">Excel</div>
<div class="t" style="left:408.1px;top:666.08px;line-height:20px;font-size:11.6px;color:#555c63;letter-spacing:-1.194px;">PDF</div>
<div class="t" style="left:447.2px;top:666.08px;line-height:20px;font-size:11.6px;color:#555c63;letter-spacing:0.214px;">Print</div>
<div class="t" style="left:490.3px;top:666.02px;line-height:20px;font-size:13.5px;letter-spacing:-0.36px;">Show</div>
<div class="abs" style="left:526.3px;top:662.5px;width:67.5px;height:27px;border:1px solid #dfe3e7;border-radius:3px;background:#fff"></div>
<div class="t" style="left:537.9px;top:666.70px;line-height:20px;font-size:12.4px;color:#495057;letter-spacing:0.303px;">20</div>
<svg class="abs" style="left:576px;top:672px" width="12" height="8" viewBox="0 0 12 8"><path d="M2 1.5 L6 5.5 L10 1.5" fill="none" stroke="#30353a" stroke-width="2"/></svg>
<div class="t" style="left:596.4px;top:666.02px;line-height:20px;font-size:13.5px;letter-spacing:0.195px;">entries</div>
<div class="t" style="left:1171.5px;top:666.02px;line-height:20px;font-size:13.5px;letter-spacing:-0.339px;">Search:</div>
<div class="abs" style="left:1221px;top:662px;width:150px;height:27.5px;border:1px solid #dfe3e7;border-radius:3px;background:#fff"></div>
<div class="abs" style="left:271px;top:690px;width:1109px;height:240px;overflow:hidden"><table style="left:0;top:9px">
<colgroup><col style="width:67px"><col style="width:98px"><col style="width:98px"><col style="width:260px"><col style="width:260px"><col style="width:189px"><col style="width:98px"><col style="width:170px"></colgroup>
<thead><tr><th><span style="letter-spacing:0.078px">Type</span><svg width="11" height="14" viewBox="0 0 11 14"><path d="M3.35 0.3 H7.65 V6.5 H10.8 L5.5 13.6 L0.2 6.5 H3.35 Z" fill="#dedede"/></svg></th><th><span style="letter-spacing:0.078px">Domain</span><br><span style="letter-spacing:0.108px">Strength</span><svg width="11" height="14" viewBox="0 0 11 14"><path d="M3.35 0.3 H7.65 V6.5 H10.8 L5.5 13.6 L0.2 6.5 H3.35 Z" fill="#dedede"/></svg></th><th><span style="letter-spacing:-0.039px">Page</span><br><span style="letter-spacing:0.108px">Strength</span><svg width="11" height="14" viewBox="0 0 11 14"><path d="M3.35 0.3 H7.65 V6.5 H10.8 L5.5 13.6 L0.2 6.5 H3.35 Z" fill="#dedede"/></svg></th><th><span style="letter-spacing:-0.105px">Referring Page</span><svg width="11" height="14" viewBox="0 0 11 14"><path d="M3.35 0.3 H7.65 V6.5 H10.8 L5.5 13.6 L0.2 6.5 H3.35 Z" fill="#dedede"/></svg></th><th><span style="letter-spacing:-0.066px">Target Page</span><svg width="11" height="14" viewBox="0 0 11 14"><path d="M3.35 0.3 H7.65 V6.5 H10.8 L5.5 13.6 L0.2 6.5 H3.35 Z" fill="#dedede"/></svg></th><th><span style="letter-spacing:-0.174px">Anchor Text</span><svg width="11" height="14" viewBox="0 0 11 14"><path d="M3.35 0.3 H7.65 V6.5 H10.8 L5.5 13.6 L0.2 6.5 H3.35 Z" fill="#dedede"/></svg></th><th><span style="letter-spacing:-0.063px">Follow /</span><br><span style="letter-spacing:0.096px">Nofollow</span><svg width="11" height="14" viewBox="0 0 11 14"><path d="M3.35 0.3 H7.65 V6.5 H10.8 L5.5 13.6 L0.2 6.5 H3.35 Z" fill="#dedede"/></svg></th><th><span style="letter-spacing:-0.114px">Link Type</span><svg width="11" height="14" viewBox="0 0 11 14"><path d="M3.35 0.3 H7.65 V6.5 H10.8 L5.5 13.6 L0.2 6.5 H3.35 Z" fill="#dedede"/></svg></th></tr></thead><tbody>
<tr class="odd"><td><span style="letter-spacing:-0.598px">New</span></td><td><span style="letter-spacing:0.894px">62</span></td><td><span style="letter-spacing:0.847px">0</span></td><td><a><span style="letter-spacing:0.223px">https://godspacelight.com/getting-our-</span><br><span style="letter-spacing:-0.017px">families-ready-for-advent-and-ch...</span></a></td><td><a><span style="letter-spacing:0.091px">https://www.succulentsandsunshine.com</span><br><span style="letter-spacing:0.081px">/succulent-advent-calendar/</span></a></td><td><span style="letter-spacing:0.057px">Advent calendar/garden</span></td><td><span style="letter-spacing:-0.121px">Follow</span></td><td><span style="letter-spacing:0.496px">Href</span></td></tr>
<tr class=""><td><span style="letter-spacing:-0.598px">New</span></td><td><span style="letter-spacing:-2.153px">1</span></td><td><span style="letter-spacing:0.847px">0</span></td><td><a><span style="letter-spacing:0.156px">https://www.govtapp.com/p/succulentsa</span><br><span style="letter-spacing:0.056px">ndsunshine</span></a></td><td><a><span style="letter-spacing:0.091px">https://www.succulentsandsunshine.com</span><br><span style="letter-spacing:0.051px">/succulent-care/</span></a></td><td><span style="letter-spacing:-0.092px">S Succulentsandsunshine |</span><br><span style="letter-spacing:0.002px">2y 11m ago</span></td><td><span style="letter-spacing:-0.121px">Follow</span></td><td><span style="letter-spacing:0.496px">Href</span></td></tr>
<tr class="odd"><td><span style="letter-spacing:-0.598px">New</span></td><td><span style="letter-spacing:-2.153px">1</span></td><td><span style="letter-spacing:0.847px">0</span></td><td><a><span style="letter-spacing:0.156px">https://www.govtapp.com/p/succulentsa</span><br><span style="letter-spacing:0.056px">ndsunshine</span></a></td><td><a><span style="letter-spacing:0.091px">https://www.succulentsandsunshine.com</span><br><span style="letter-spacing:-0.03px">/types-of-succulents/kalanchoe-or...</span></a></td><td><span style="letter-spacing:-0.092px">S Succulentsandsunshine |</span><br><span style="letter-spacing:-0.109px">2y 10m ago</span></td><td><span style="letter-spacing:-0.121px">Follow</span></td><td><span style="letter-spacing:0.496px">Href</span></td></tr>
<tr class=""><td><span style="letter-spacing:-0.598px">New</span></td><td><span style="letter-spacing:-2.153px">1</span></td><td><span style="letter-spacing:0.847px">0</span></td><td><a><span style="letter-spacing:0.156px">https://www.govtapp.com/p/succulentsa</span><br><span style="letter-spacing:0.056px">ndsunshine</span></a></td><td><a><span style="letter-spacing:0.091px">https://www.succulentsandsunshine.com</span><br><span style="letter-spacing:2.066px">/</span></a></td><td><span style="letter-spacing:-0.105px">S Succulentsandsunshine</span></td><td><span style="letter-spacing:-0.121px">Follow</span></td><td><span style="letter-spacing:0.496px">Href</span></td></tr>
</tbody></table></div>
<div id="sidebar"></div><div id="sbthumb"></div>
<svg width="240" height="80" viewBox="0 0 240 80" style="position:absolute;left:0;top:0"><path d="M50.57 27.16 A10.8 10.8 0 1 0 57.10 47.25 L55.30 44.14 A7.2 7.2 0 1 1 50.95 30.74 Z M51.09 27.62 L49.65 24.35 L45.39 25.74 L46.15 29.22 Z M45.16 29.94 L42.08 28.14 L39.45 31.77 L42.11 34.14 Z M41.73 35.31 L38.18 35.66 L38.18 40.14 L41.73 40.49 Z M42.11 41.66 L39.45 44.03 L42.08 47.66 L45.16 45.86 Z M46.15 46.58 L45.39 50.06 L49.65 51.45 L51.09 48.18 Z M52.31 48.18 L53.75 51.45 L58.01 50.06 L57.25 46.58 Z" fill="#fff"/><path d="M50.57 27.16 A10.8 10.8 0 1 0 57.10 47.25 L55.30 44.14 A7.2 7.2 0 1 1 50.95 30.74 Z M51.09 27.62 L49.65 24.35 L45.39 25.74 L46.15 29.22 Z M45.16 29.94 L42.08 28.14 L39.45 31.77 L42.11 34.14 Z M41.73 35.31 L38.18 35.66 L38.18 40.14 L41.73 40.49 Z M42.11 41.66 L39.45 44.03 L42.08 47.66 L45.16 45.86 Z M46.15 46.58 L45.39 50.06 L49.65 51.45 L51.09 48.18 Z M52.31 48.18 L53.75 51.45 L58.01 50.06 L57.25 46.58 Z" fill="#fff" transform="rotate(180 54.9 41.75)"/></svg>
<div class="t" style="left:76.8px;top:26.36px;line-height:28px;font-size:23.2px;color:#fff;letter-spacing:0.289px;-webkit-text-stroke:1.05px #fff;">SEOptimer</div>
<svg class="mic" style="left:25.5px;top:78.6px" width="32" height="32" viewBox="-16 -16 32 32" fill="none" stroke="#afb5ba" stroke-width="1.3" stroke-linejoin="round" stroke-linecap="butt"><g fill="#afb5ba" stroke="none"><rect x="-5.6" y="-5.6" width="5" height="6.6"/><rect x="-5.6" y="2.3" width="5" height="3.2"/><rect x="0.6" y="-5.6" width="5" height="3.2"/><rect x="0.6" y="-1.1" width="5" height="6.6"/></g></svg>
<div class="t" style="left:63.6px;top:85.32px;line-height:20px;font-size:13.5px;color:#c3c8cc;letter-spacing:0.007px;">Dashboard</div>
<svg class="mic" style="left:25.5px;top:120.2px" width="32" height="32" viewBox="-16 -16 32 32" fill="none" stroke="#afb5ba" stroke-width="1.3" stroke-linejoin="round" stroke-linecap="butt"><path d="M1.5 -4.1 H-7 V7.2 H6.2 V1.2"/><path d="M-4.3 4.9 L-3.2 1.3 L5.2 -6.3 L7.5 -3.9 L-0.8 3.8 Z"/><path d="M3.6 -4.8 L6 -2.4"/></svg>
<div class="t" style="left:63.6px;top:127.32px;line-height:20px;font-size:13.5px;color:#c3c8cc;letter-spacing:-0.051px;">Report Templates</div>
<svg class="mic" style="left:25.5px;top:161.7px" width="32" height="32" viewBox="-16 -16 32 32" fill="none" stroke="#afb5ba" stroke-width="1.3" stroke-linejoin="round" stroke-linecap="butt"><path d="M-7.3 -3.9 H-1.6 L2.4 0.2 V7.1 H-7.3 Z"/><path d="M-1.9 -3.9 V0.5 H2.4" /><path d="M-2.2 -6.2 H3.4 L7.4 -2.2 V4.8 H2.6"/><path d="M3.1 -6.2 V-1.9 H7.4"/></svg>
<div class="t" style="left:63.6px;top:168.32px;line-height:20px;font-size:13.5px;color:#c3c8cc;letter-spacing:-0.145px;">White Label Reports</div>
<svg class="mic" style="left:25.5px;top:203.3px" width="32" height="32" viewBox="-16 -16 32 32" fill="none" stroke="#afb5ba" stroke-width="1.3" stroke-linejoin="round" stroke-linecap="butt"><rect x="-7.3" y="-4.3" width="14.7" height="9.2"/><path d="M-4.5 -0.9 H4.6"/><rect x="-1.6" y="0.6" width="3.4" height="1.2" fill="#afb5ba" stroke="none"/></svg>
<div class="t" style="left:63.6px;top:210.32px;line-height:20px;font-size:13.5px;color:#c3c8cc;letter-spacing:-0.066px;">Embedding Settings</div>
<svg class="mic" style="left:25.5px;top:244.8px" width="32" height="32" viewBox="-16 -16 32 32" fill="none" stroke="#afb5ba" stroke-width="1.3" stroke-linejoin="round" stroke-linecap="butt"><rect x="-7.3" y="-5.3" width="14.7" height="10.7"/><path d="M-7.3 -5.3 L0 1.3 L7.4 -5.3"/><path d="M-7.3 5.4 L-2.2 -0.6 M7.4 5.4 L2.3 -0.6"/></svg>
<div class="t" style="left:63.6px;top:251.32px;line-height:20px;font-size:13.5px;color:#c3c8cc;letter-spacing:-0.299px;">Leads</div>
<svg class="mic" style="left:25.5px;top:286.4px" width="32" height="32" viewBox="-16 -16 32 32" fill="none" stroke="#afb5ba" stroke-width="1.3" stroke-linejoin="round" stroke-linecap="butt"><circle cx="-1.5" cy="-1.2" r="5.2"/><path d="M2.3 2.7 L6.8 7.1" stroke-width="1.5"/><path d="M-4 -1.2 H1 M-1.5 -3.7 V1.3" stroke-width="1.3"/></svg>
<div class="t" style="left:63.6px;top:293.32px;line-height:20px;font-size:13.5px;color:#c3c8cc;letter-spacing:-0.21px;">Website Crawls</div>
<svg class="mic" style="left:25.5px;top:328.0px" width="32" height="32" viewBox="-16 -16 32 32" fill="none" stroke="#afb5ba" stroke-width="1.3" stroke-linejoin="round" stroke-linecap="butt"><path d="M-6.3 5 V-5.2 H-3.9 V5 M-3.2 5 V-2.5 H-0.9 V5 M0 5 V-1 H2.4 V5 M3.3 5 V0.5 H5.7 V5" /><path d="M-7.3 7 H7.4"/></svg>
<div class="t" style="left:63.6px;top:335.32px;line-height:20px;font-size:13.5px;color:#c3c8cc;letter-spacing:-0.291px;">Keyword Research</div>
<svg class="mic" style="left:25.5px;top:369.5px" width="32" height="32" viewBox="-16 -16 32 32" fill="none" stroke="#afb5ba" stroke-width="1.3" stroke-linejoin="round" stroke-linecap="butt"><circle cx="-3.7" cy="3.8" r="2.5" stroke-width="1.3"/><path d="M-1.8 2 L5 -4.2" stroke-width="1.3"/><path d="M2.8 -2.2 L4.4 -0.6 M4.4 -3.6 L5.8 -2.2"/></svg>
<div class="t" style="left:63.6px;top:376.32px;line-height:20px;font-size:13.5px;color:#c3c8cc;letter-spacing:-0.106px;">Keyword Tracking</div>
<svg class="mic" style="left:25.5px;top:411.1px" width="32" height="32" viewBox="-16 -16 32 32" fill="none" stroke="#afb5ba" stroke-width="1.3" stroke-linejoin="round" stroke-linecap="butt"><path d="M0.5 -5.7 H-5.2 a2 2 0 0 0 -2 2 V2.8 a2 2 0 0 0 2 2 H2 a2 2 0 0 0 2 -2 V-0.5"/><path d="M-1.5 1.2 L5.5 -5" stroke-width="1.6"/><path d="M2.6 -7 H7.3 V-2.3 Z" fill="#afb5ba" stroke="none"/></svg>
<div class="t" style="left:63.6px;top:418.32px;line-height:20px;font-size:13.5px;color:#c3c8cc;letter-spacing:-0.269px;">Backlink Research</div>
<svg class="mic" style="left:25.5px;top:452.6px" width="32" height="32" viewBox="-16 -16 32 32" fill="none" stroke="#afb5ba" stroke-width="1.3" stroke-linejoin="round" stroke-linecap="butt"><path d="M-8 -6.6 V5 H8.2"/><path d="M-5.6 2.8 L-2 -1 L0 1 L5 -4" stroke-width="1.6"/><path d="M2.8 -6 H7.3 V-1.5 Z" fill="#afb5ba" stroke="none"/></svg>
<div class="t" style="left:63.6px;top:459.32px;line-height:20px;font-size:13.5px;color:#c3c8cc;letter-spacing:0.147px;">Backlink Monitoring</div>
<svg class="mic" style="left:25.5px;top:494.2px" width="32" height="32" viewBox="-16 -16 32 32" fill="none" stroke="#afb5ba" stroke-width="1.3" stroke-linejoin="round" stroke-linecap="butt"><path d="M-7.2 3.9 A7.3 7.9 0 0 1 7.4 3.9 Z"/><path d="M0 3.2 L-3.2 -1.5" stroke-width="1.3"/><circle cx="0" cy="3" r="1.2"/><path d="M0 -4 V-2.2 M4.6 -1.8 L3.4 -0.6"/></svg>
<div class="t" style="left:63.6px;top:501.32px;line-height:20px;font-size:13.5px;color:#c3c8cc;letter-spacing:0.064px;">Bulk Reporting</div>
<svg class="mic" style="left:25.5px;top:535.8px" width="32" height="32" viewBox="-16 -16 32 32" fill="none" stroke="#afb5ba" stroke-width="1.3" stroke-linejoin="round" stroke-linecap="butt"><path d="M-2.2 2.3 H-4.2 a3 3 0 0 1 -0.6 -5.9 a3.9 3.9 0 0 1 7.2 -0.9 a3.4 3.4 0 0 1 1.6 6.8 H2.2"/><path d="M0 -1.8 V4.5"/><path d="M-2.8 3.8 H2.8 L0 7 Z" fill="#afb5ba" stroke="none"/></svg>
<div class="t" style="left:63.6px;top:543.32px;line-height:20px;font-size:13.5px;color:#c3c8cc;letter-spacing:-0.283px;">API</div>
<svg class="mic" style="left:25.5px;top:577.3px" width="32" height="32" viewBox="-16 -16 32 32" fill="none" stroke="#afb5ba" stroke-width="1.3" stroke-linejoin="round" stroke-linecap="butt"><circle cx="0" cy="0" r="7"/><ellipse cx="0" cy="0" rx="3.2" ry="7"/><path d="M-7 0 H7 M-6 -3.5 H6 M-6 3.5 H6 M0 -7 V7" stroke-width="1"/></svg>
<div class="t" style="left:63.6px;top:584.32px;line-height:20px;font-size:13.5px;color:#c3c8cc;letter-spacing:-0.012px;">Domain Settings</div>
<svg class="mic" style="left:25.5px;top:618.9px" width="32" height="32" viewBox="-16 -16 32 32" fill="none" stroke="#afb5ba" stroke-width="1.3" stroke-linejoin="round" stroke-linecap="butt"><path d="M-1.19 -5.06 L-0.89 -7.35 L0.89 -7.35 L1.19 -5.06 L2.74 -4.42 L4.57 -5.82 L5.82 -4.57 L4.42 -2.74 L5.06 -1.19 L7.35 -0.89 L7.35 0.89 L5.06 1.19 L4.42 2.74 L5.82 4.57 L4.57 5.82 L2.74 4.42 L1.19 5.06 L0.89 7.35 L-0.89 7.35 L-1.19 5.06 L-2.74 4.42 L-4.57 5.82 L-5.82 4.57 L-4.42 2.74 L-5.06 1.19 L-7.35 0.89 L-7.35 -0.89 L-5.06 -1.19 L-4.42 -2.74 L-5.82 -4.57 L-4.57 -5.82 L-2.74 -4.42 Z"/><circle cx="0" cy="0" r="2.1"/></svg>
<div class="t" style="left:63.6px;top:626.32px;line-height:20px;font-size:13.5px;color:#c3c8cc;letter-spacing:0.124px;">My Account</div>
<svg class="mic" style="left:25.5px;top:660.4px" width="32" height="32" viewBox="-16 -16 32 32" fill="none" stroke="#afb5ba" stroke-width="1.3" stroke-linejoin="round" stroke-linecap="butt"><path d="M-7 0.3 V6.6 H7.2 V0.3" stroke-width="1.3"/><path d="M0 4 V-6.3 M-4 -2.6 L0 -6.6 L4 -2.6" stroke-width="1.3"/></svg>
<div class="t" style="left:63.6px;top:667.32px;line-height:20px;font-size:13.5px;color:#c3c8cc;letter-spacing:0.401px;">Logout</div>
<div class="t" style="left:33.8px;top:721.92px;line-height:20px;font-size:13.5px;color:#7c8791;letter-spacing:0.09px;">Blog</div>
<svg class="mic" style="left:25.5px;top:754.6px" width="32" height="32" viewBox="-16 -16 32 32" fill="none" stroke="#afb5ba" stroke-width="1.3" stroke-linejoin="round" stroke-linecap="butt"><path d="M-7.3 -3.9 H-1.6 L2.4 0.2 V7.1 H-7.3 Z"/><path d="M-1.9 -3.9 V0.5 H2.4" /><path d="M-2.2 -6.2 H3.4 L7.4 -2.2 V4.8 H2.6"/><path d="M3.1 -6.2 V-1.9 H7.4"/></svg>
<div class="t" style="left:63.7px;top:761.12px;line-height:20px;font-size:13.5px;color:#c3c8cc;letter-spacing:-0.47px;">Pages</div>
<svg class="mic" style="left:25.5px;top:795.6px" width="32" height="32" viewBox="-16 -16 32 32" fill="none" stroke="#afb5ba" stroke-width="1.3" stroke-linejoin="round" stroke-linecap="butt"><path d="M-3.3 6.2 V-2.6 L0.6 -5.5 L4.5 -2.6 V6.2 L0.6 3.4 Z" stroke-width="1.3"/><circle cx="0.6" cy="-1.9" r="0.9"/></svg>
<div class="t" style="left:63.7px;top:801.92px;line-height:20px;font-size:13.5px;color:#c3c8cc;letter-spacing:-0.089px;">Categories</div>
<div id="topbar"></div>
<svg class="abs" style="left:244px;top:31.3px" width="20" height="18" viewBox="0 0 20 18"><path d="M0.5 3h17.5M0.5 9h17.5M0.5 15h17.5" stroke="#323a46" stroke-width="2" fill="none"/></svg>
<div class="abs" style="left:285px;top:24px;width:225px;height:35px;border:1px solid #e2e6ea;border-radius:3px;background:#ebeef1"></div>
<div class="t" style="left:294.7px;top:31.36px;line-height:22px;font-size:15.4px;color:#8e9296;letter-spacing:-0.549px;">Website URL</div>
<div class="abs" style="left:517px;top:24px;width:92px;height:35px;border:1px solid #e2e6ea;border-radius:3px;background:#fff"></div>
<div class="t" style="left:528.7px;top:32.32px;line-height:20px;font-size:13.5px;color:#343a40;letter-spacing:0.05px;">Quick Audit</div>
<div class="t" style="left:1286.9px;top:31.99px;line-height:20px;font-size:13.3px;font-weight:bold;color:#3577b5;letter-spacing:-0.076px;">Help</div>
<svg class="abs" style="left:1320px;top:40.2px" width="8" height="5" viewBox="0 0 8 5"><path d="M1.2 0.8h5.6L4 4z" fill="#3577b5"/></svg>
<svg class="abs" style="left:1350px;top:28px" width="34" height="28" viewBox="0 0 34 28"><circle cx="21.8" cy="9.3" r="6.4" fill="#5d9cec"/><path d="M16.8 10.7 a5 4.1 0 0 0 10 0 Z" fill="#fff"/><path d="M13.5 20.8 C14.5 15.4 29.5 15.4 30.6 20.8 Z" fill="#5d9cec"/><circle cx="12.3" cy="12.5" r="7.6" fill="#fff"/><path d="M2.5 24.8 C3.5 17.5 21 17.5 22 24.8 Z" fill="#fff" stroke="#fff" stroke-width="2"/><circle cx="12.3" cy="12.5" r="6.4" fill="#5d9cec"/><path d="M7.3 13.9 a5 4.1 0 0 0 10 0 Z" fill="#fff"/><path d="M3.5 24.5 C4.5 18.6 20 18.6 21 24.5 Z" fill="#5d9cec"/></svg>
<div class="abs" style="left:1306px;top:818px;width:140px;height:140px;border-radius:50%;background:radial-gradient(circle closest-side,rgba(255,255,255,.4) 0,rgba(255,255,255,.3) 45%,rgba(255,255,255,0) 100%)"></div>
<div class="abs" style="left:1355px;top:867px;width:43px;height:43px;border-radius:50%;background:#5492dc;box-shadow:0 1px 6px rgba(0,0,0,.12),0 2px 14px rgba(0,0,0,.12)"></div>
<svg class="abs" style="left:1355px;top:867px" width="43" height="43" viewBox="0 0 43 43"><path d="M14 11h15a2 2 0 0 1 2 2v19.3l-5.3-2.4H14a2 2 0 0 1-2-2V13a2 2 0 0 1 2-2z" fill="#fff"/><path d="M15 24.3c3.6 3 9.4 3 13 0" fill="none" stroke="#5492dc" stroke-width="1.1" stroke-linecap="round"/></svg>
</div></div>
</body>
</html>
